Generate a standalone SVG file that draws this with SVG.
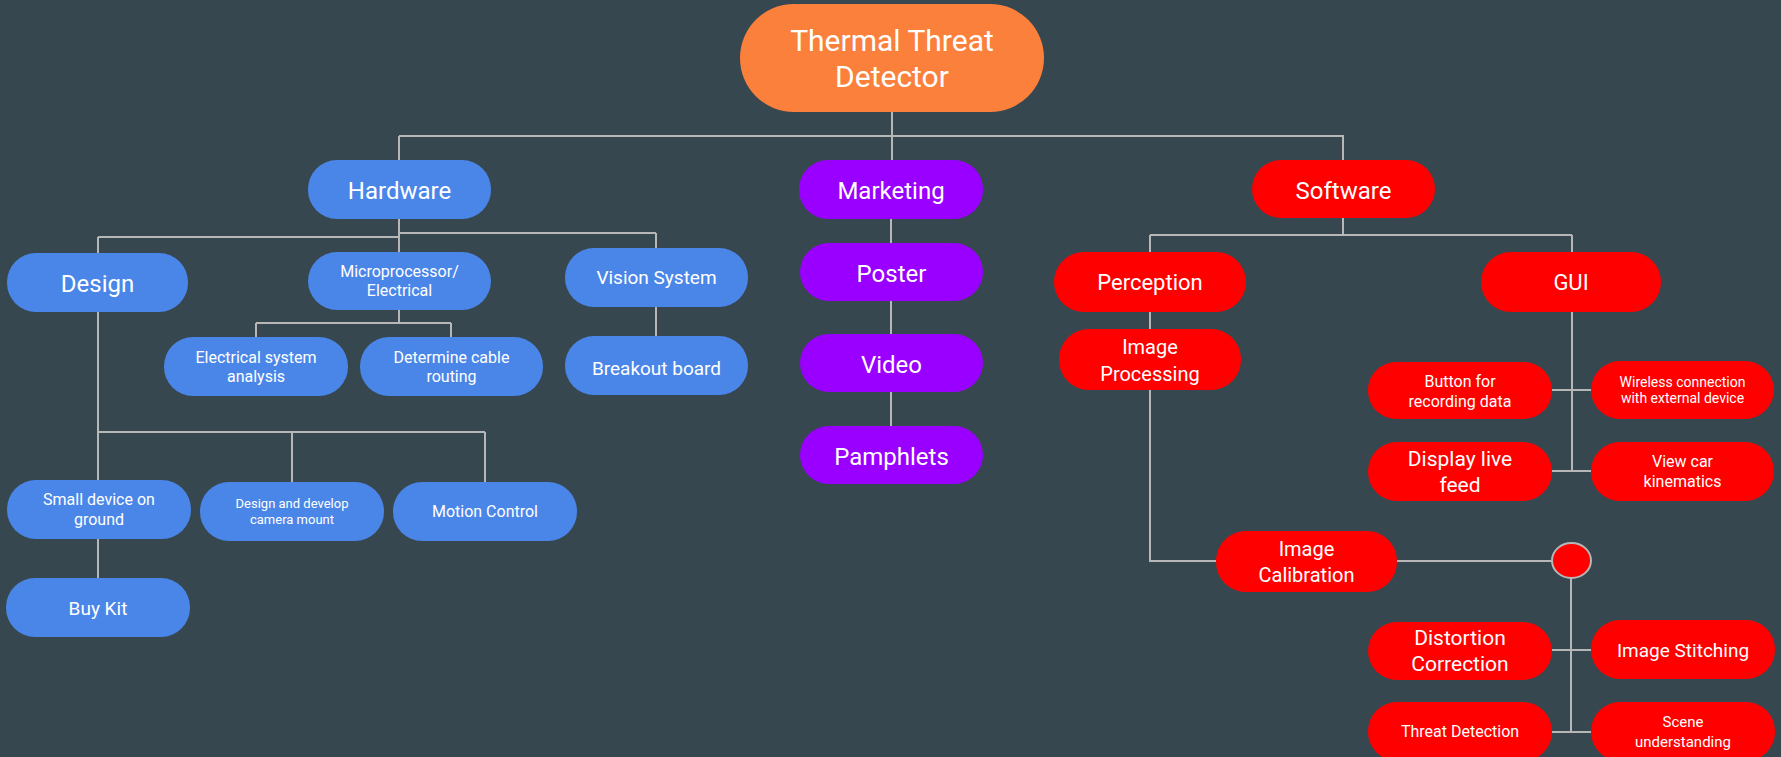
<svg xmlns="http://www.w3.org/2000/svg" width="1781" height="757" viewBox="0 0 1781 757">
<style>
.bg{fill:#37474f}
.blue{fill:#4a86e8}
.purple{fill:#9900ff}
.red{fill:#ff0000}
.orange{fill:#fb803c}
text{font-family:Roboto,"Liberation Sans",sans-serif;fill:#ffffff;text-anchor:middle}
.ln{stroke:#b7b7b7;stroke-width:2;fill:none}
</style>
<rect class="bg" x="0" y="0" width="1781" height="757"/>
<g id="connectors">
<path class="ln" d="M892 112V136M399 136H1344M399 136V160M892 136V160M1343 136V160"/>
<path class="ln" d="M399 219V252M98 237H399M399 233H656M98 237V253M656 233V248"/>
<path class="ln" d="M399 310V323M256 323H451M256 323V337M451 323V337M656 307V336"/>
<path class="ln" d="M98 312V432M98 432H485M292 432V482M485 432V482M98 432V480M98 539V578"/>
<path class="ln" d="M891 219V243M891 301V334M891 392V426"/>
<path class="ln" d="M1343 218V235M1150 235H1572M1150 235V252M1572 235V252"/>
<path class="ln" d="M1150 312V329M1150 390V561H1216M1397 561H1552"/>
<path class="ln" d="M1572 312V471M1552 390H1591M1552 471H1591"/>
<path class="ln" d="M1571 578V732M1552 650H1591M1552 732H1591"/>
</g>
<g id="root"><rect class="orange" x="740" y="4" width="304" height="108" rx="54"/><text x="892" y="51" font-size="30">Thermal Threat</text><text x="892" y="87" font-size="30">Detector</text></g>
<g id="hardware"><rect class="blue" x="308" y="160" width="183" height="59" rx="29"/><text x="399.5" y="199" font-size="24">Hardware</text></g>
<g id="marketing"><rect class="purple" x="799" y="160" width="184" height="59" rx="29"/><text x="891" y="199" font-size="24">Marketing</text></g>
<g id="software"><rect class="red" x="1252" y="160" width="183" height="58" rx="29"/><text x="1343.5" y="199" font-size="24">Software</text></g>
<g id="design"><rect class="blue" x="7" y="253" width="181" height="59" rx="29"/><text x="97.5" y="292" font-size="24">Design</text></g>
<g id="micro"><rect class="blue" x="308" y="252" width="183" height="58" rx="29"/><text x="399.5" y="277" font-size="16">Microprocessor/</text><text x="399.5" y="296" font-size="16">Electrical</text></g>
<g id="vision"><rect class="blue" x="565" y="248" width="183" height="59" rx="29"/><text x="656.5" y="284" font-size="19">Vision System</text></g>
<g id="elec"><rect class="blue" x="164" y="337" width="184" height="59" rx="29"/><text x="256" y="363" font-size="16">Electrical system</text><text x="256" y="382" font-size="16">analysis</text></g>
<g id="cable"><rect class="blue" x="360" y="337" width="183" height="59" rx="29"/><text x="451.5" y="363" font-size="16">Determine cable</text><text x="451.5" y="382" font-size="16">routing</text></g>
<g id="breakout"><rect class="blue" x="565" y="336" width="183" height="59" rx="29"/><text x="656.5" y="375" font-size="19">Breakout board</text></g>
<g id="small"><rect class="blue" x="7" y="480" width="184" height="59" rx="29"/><text x="99" y="505" font-size="16">Small device on</text><text x="99" y="525" font-size="16">ground</text></g>
<g id="mount"><rect class="blue" x="200" y="482" width="184" height="59" rx="29"/><text x="292" y="508" font-size="13">Design and develop</text><text x="292" y="524" font-size="13">camera mount</text></g>
<g id="motion"><rect class="blue" x="393" y="482" width="184" height="59" rx="29"/><text x="485" y="517" font-size="16">Motion Control</text></g>
<g id="buykit"><rect class="blue" x="6" y="578" width="184" height="59" rx="29"/><text x="98" y="615" font-size="19">Buy Kit</text></g>
<g id="poster"><rect class="purple" x="800" y="243" width="183" height="58" rx="29"/><text x="891.5" y="282" font-size="24">Poster</text></g>
<g id="video"><rect class="purple" x="800" y="334" width="183" height="58" rx="29"/><text x="891.5" y="373" font-size="24">Video</text></g>
<g id="pamphlets"><rect class="purple" x="800" y="426" width="183" height="58" rx="29"/><text x="891.5" y="465" font-size="24">Pamphlets</text></g>
<g id="perception"><rect class="red" x="1054" y="252" width="192" height="60" rx="30"/><text x="1150" y="290" font-size="22">Perception</text></g>
<g id="gui"><rect class="red" x="1481" y="252" width="180" height="60" rx="30"/><text x="1571" y="290" font-size="22">GUI</text></g>
<g id="imgproc"><rect class="red" x="1059" y="329" width="182" height="61" rx="30"/><text x="1150" y="354" font-size="20">Image</text><text x="1150" y="381" font-size="20">Processing</text></g>
<g id="button"><rect class="red" x="1368" y="362" width="184" height="57" rx="28"/><text x="1460" y="387" font-size="16">Button for</text><text x="1460" y="407" font-size="16">recording data</text></g>
<g id="wireless"><rect class="red" x="1591" y="361" width="183" height="58" rx="29"/><text x="1682.5" y="387" font-size="14">Wireless connection</text><text x="1682.5" y="403" font-size="14">with external device</text></g>
<g id="display"><rect class="red" x="1368" y="442" width="184" height="59" rx="29"/><text x="1460" y="466" font-size="21">Display live</text><text x="1460" y="492" font-size="21">feed</text></g>
<g id="viewcar"><rect class="red" x="1591" y="442" width="183" height="59" rx="29"/><text x="1682.5" y="467" font-size="16">View car</text><text x="1682.5" y="487" font-size="16">kinematics</text></g>
<g id="calib"><rect class="red" x="1216" y="531" width="181" height="61" rx="30"/><text x="1306.5" y="556" font-size="20">Image</text><text x="1306.5" y="582" font-size="20">Calibration</text></g>
<g id="junction"><ellipse cx="1571.5" cy="560.5" rx="19.5" ry="17.5" fill="#ff0000" stroke="#b7b7b7" stroke-width="2"/></g>
<g id="distortion"><rect class="red" x="1368" y="622" width="184" height="58" rx="29"/><text x="1460" y="645" font-size="21">Distortion</text><text x="1460" y="671" font-size="21">Correction</text></g>
<g id="stitching"><rect class="red" x="1591" y="620" width="184" height="59" rx="29"/><text x="1683" y="657" font-size="19">Image Stitching</text></g>
<g id="threat"><rect class="red" x="1368" y="702" width="184" height="59" rx="29"/><text x="1460" y="737" font-size="16">Threat Detection</text></g>
<g id="scene"><rect class="red" x="1591" y="702" width="184" height="59" rx="29"/><text x="1683" y="727" font-size="15">Scene</text><text x="1683" y="747" font-size="15">understanding</text></g>
</svg>
